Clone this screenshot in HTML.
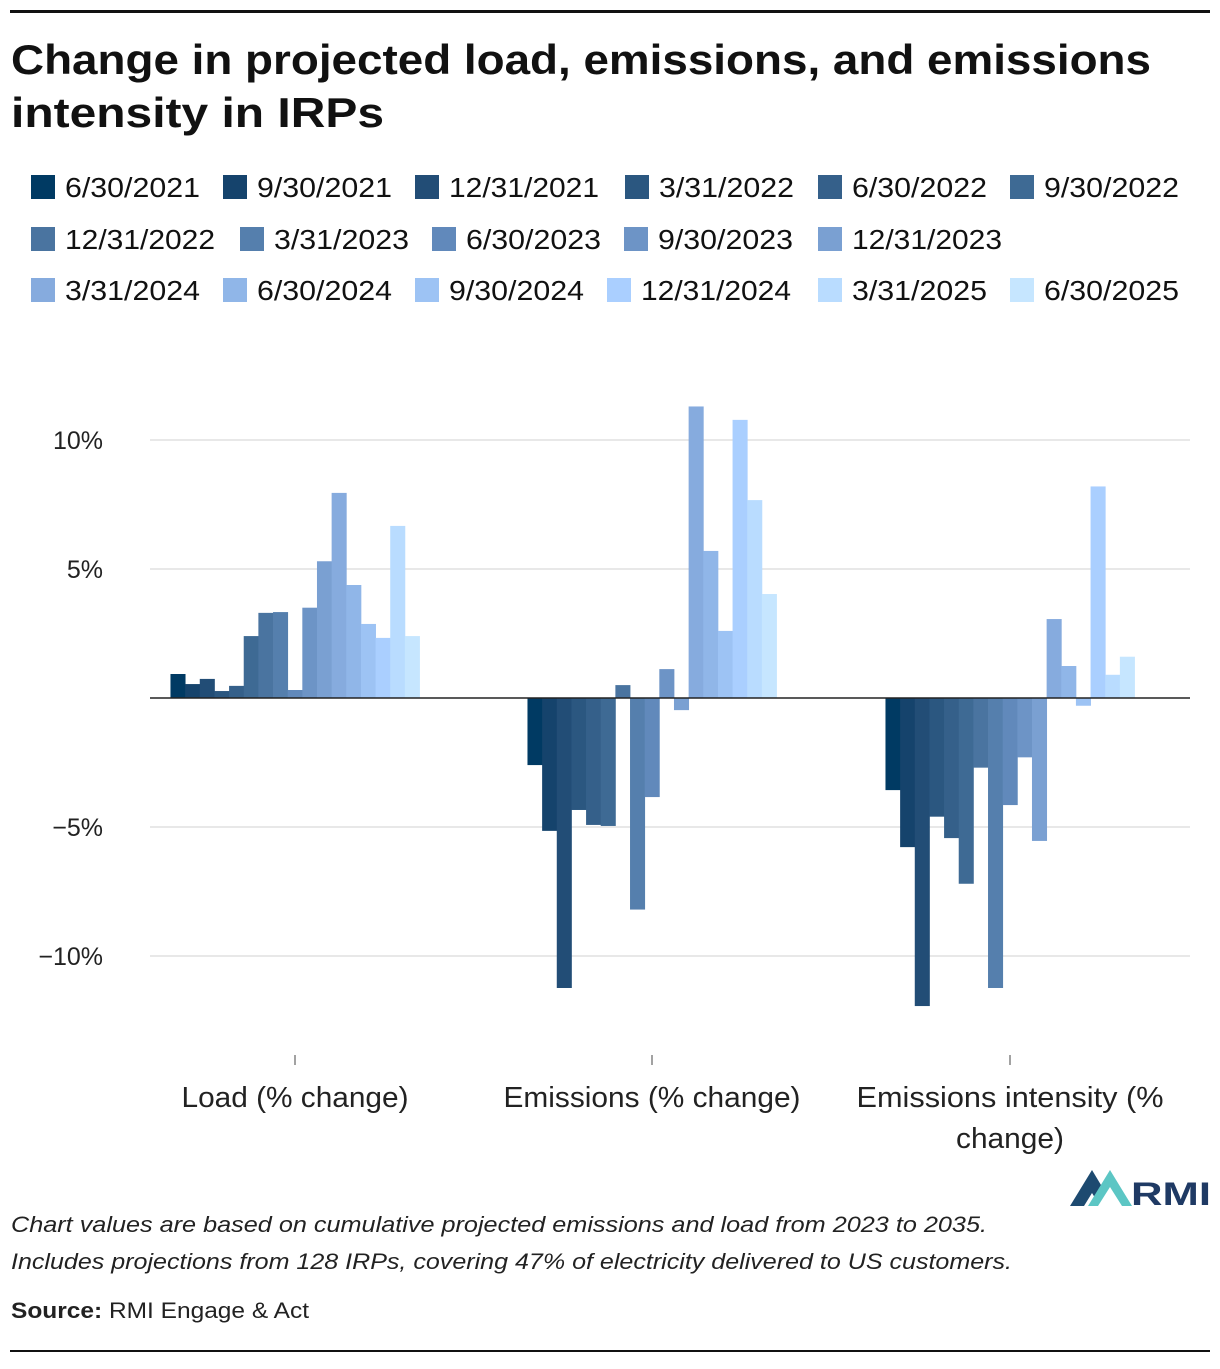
<!DOCTYPE html>
<html><head><meta charset="utf-8"><style>
body{margin:0;background:#fff;font-family:"Liberation Sans",sans-serif}
svg text{font-family:"Liberation Sans",sans-serif}
</style></head><body>
<svg id="c" width="1220" height="1364" xmlns="http://www.w3.org/2000/svg">
<rect x="10" y="10" width="1200" height="3" fill="#111"/>
<text x="11" y="74" font-size="42" font-weight="bold" fill="#111" textLength="1140" lengthAdjust="spacingAndGlyphs">Change in projected load, emissions, and emissions</text>
<text x="11" y="127" font-size="42" font-weight="bold" fill="#111" textLength="373" lengthAdjust="spacingAndGlyphs">intensity in IRPs</text>
<g id="legend"></g>
<g id="grid"></g>
<g id="bars"></g>
<line x1="150" x2="1190" y1="698" y2="698" stroke="#222" stroke-width="1.5"/>
<g id="xaxis"></g>
<g>
<polygon points="1070,1206 1092,1170 1104,1190 1097,1201 1092,1193 1084,1206" fill="#1d4a70"/>
<polygon points="1088,1206 1110,1170 1132,1206 1122,1206 1110,1187 1098,1206" fill="#5cc6c4"/>
<text x="1131" y="1205" font-size="32" font-weight="bold" fill="#1f3a64" textLength="80" lengthAdjust="spacingAndGlyphs">RMI</text>
</g>
<text x="11" y="1232" font-size="22" font-style="italic" fill="#222" textLength="976" lengthAdjust="spacingAndGlyphs">Chart values are based on cumulative projected emissions and load from 2023 to 2035.</text>
<text x="11" y="1269" font-size="22" font-style="italic" fill="#222" textLength="1001" lengthAdjust="spacingAndGlyphs">Includes projections from 128 IRPs, covering 47% of electricity delivered to US customers.</text>
<text x="11" y="1318" font-size="22" fill="#222" textLength="298" lengthAdjust="spacingAndGlyphs"><tspan font-weight="bold">Source:</tspan> RMI Engage &amp; Act</text>
<rect x="10" y="1350" width="1200" height="2" fill="#111"/>
</svg>
<script>
const categories=["Load (% change)","Emissions (% change)","Emissions intensity (% change)"];
const seriesNames=["6/30/2021","9/30/2021","12/31/2021","3/31/2022","6/30/2022","9/30/2022","12/31/2022","3/31/2023","6/30/2023","9/30/2023","12/31/2023","3/31/2024","6/30/2024","9/30/2024","12/31/2024","3/31/2025","6/30/2025"];
const loadValues=[0.93,0.54,0.74,0.27,0.47,2.4,3.3,3.33,0.31,3.5,5.3,7.95,4.38,2.87,2.33,6.67,2.4];
const emissionsValues=[-2.6,-5.15,-11.24,-4.34,-4.92,-4.96,0.5,-8.2,-3.84,1.12,-0.47,11.3,5.7,2.6,10.78,7.67,4.03];
const intensityValues=[-3.57,-5.78,-11.94,-4.6,-5.43,-7.2,-2.7,-11.24,-4.15,-2.3,-5.54,3.06,1.24,-0.3,8.2,0.9,1.6];
const yTicks=[10,5,-5,-10];
const yTickLabels=["10%","5%","−5%","−10%"];
const colors=["#003a63","#15436c","#224d76","#2b5780","#35608a","#3e6a94","#4a74a0","#557fad","#6189bb","#6d94c6","#7aa0d2","#86abde","#90b6e8","#9dc3f4","#aacfff","#b9dcff","#c6e6ff"];
const NS="http://www.w3.org/2000/svg";
function mk(t,a,p){const e=document.createElementNS(NS,t);for(const k in a)e.setAttribute(k,a[k]);p.appendChild(e);return e;}
const y=v=>698-v*25.8;
const groupCenters=[295,652,1010];
const bw=14.65;
const x=(g,i)=>groupCenters[g]-bw*seriesNames.length/2+i*bw;
const grid=document.getElementById('grid');
yTicks.forEach((t,i)=>{
 const l=mk('line',{x1:150,x2:1190,y1:y(t),y2:y(t),stroke:'#e0e0e0','stroke-width':1.5},grid);
 
 
 const tx=mk('text',{x:103,y:y(t)+9,'font-size':25,'text-anchor':'end',fill:'#222'},grid);
 tx.textContent=yTickLabels[i];
 
 
});
const bars=document.getElementById('bars');
[loadValues,emissionsValues,intensityValues].forEach((vals,g)=>{
 vals.forEach((v,i)=>{
  const r=mk('rect',{x:x(g,i),y:Math.min(y(v),y(0)),width:bw+0.4,height:Math.abs(y(v)-y(0)),fill:colors[i]},bars);
  
  
 });
});
const xa=document.getElementById('xaxis');
const lblW=[227,297,0];
categories.forEach((c,g)=>{
 mk('line',{x1:groupCenters[g],x2:groupCenters[g],y1:1055,y2:1065,stroke:'#444','stroke-width':1},xa);
 if(g<2){
  const t=mk('text',{x:groupCenters[g],y:1107,'font-size':29,'text-anchor':'middle',fill:'#222',textLength:lblW[g],lengthAdjust:'spacingAndGlyphs'},xa);
  t.textContent=c;
  
  
 } else {
  const t=mk('text',{x:groupCenters[g],y:1107,'font-size':29,'text-anchor':'middle',fill:'#222',textLength:307,lengthAdjust:'spacingAndGlyphs'},xa);
  t.textContent="Emissions intensity (%";
  
  
  const t2=mk('text',{x:groupCenters[g],y:1148,'font-size':29,'text-anchor':'middle',fill:'#222',textLength:108,lengthAdjust:'spacingAndGlyphs'},xa);
  t2.textContent="change)";
  
  
 }
});
const lg=document.getElementById('legend');
const rowY=[187,239,290];
const rowX=[[31,223,415,625,818,1010],[31,240,432,624,818],[31,223,415,607,818,1010]];
let idx=0;
rowX.forEach((xs,r)=>{
 xs.forEach(px=>{
  const i=idx++;
  const s=mk('rect',{x:px,y:rowY[r]-12,width:24,height:24,fill:colors[i]},lg);
  
  
  const w=seriesNames[i].length*15;
  const t=mk('text',{x:px+34,y:rowY[r]+10,'font-size':28,fill:'#111',textLength:w,lengthAdjust:'spacingAndGlyphs'},lg);
  t.textContent=seriesNames[i];
  
  
 });
});
</script>
</body></html>
